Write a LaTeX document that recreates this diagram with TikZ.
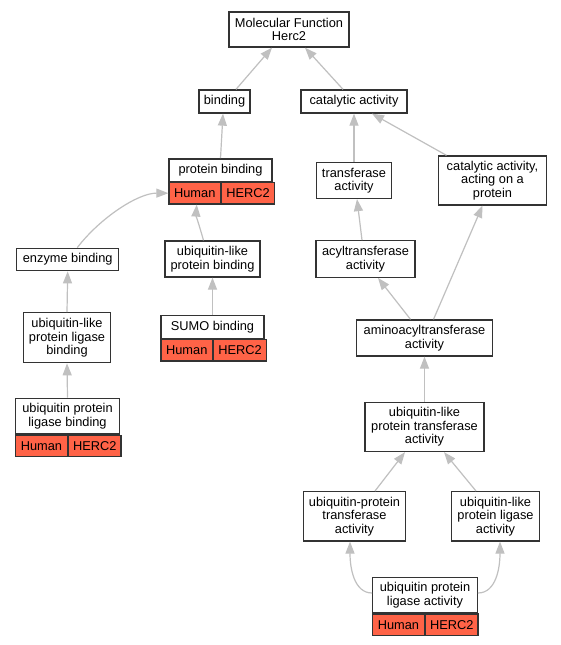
\documentclass[tikz,border=0pt]{standalone}
\usepackage{fontspec}
\setmainfont{Liberation Sans}
\usetikzlibrary{arrows.meta}
\definecolor{edgegray}{HTML}{C0C0C0}
\definecolor{boxline}{HTML}{333333}
\definecolor{tomato}{HTML}{FF6347}
\begin{document}
\begin{tikzpicture}[x=1pt,y=1pt,
    term/.style={draw=boxline,line width=1.3pt,fill=white,align=center,inner sep=0pt,
        font=\fontsize{12.8}{13.4}\selectfont},
    gene/.style={term,fill=tomato,minimum height=21.5,anchor=north west},
    edge/.style={draw=edgegray,line width=1.2pt,-{Triangle[length=12pt,width=9pt]}}]
    \useasboundingbox (0,0) rectangle (561,-645);
    \fill[white] (0,0) rectangle (561,-645);

    \node[term,minimum width=120,minimum height=35] (mf) at (289,-29.5) {Molecular Function\\Herc2};
    \node[term,minimum width=51,minimum height=23] (bind) at (224.5,-101.5) {binding};
    \node[term,minimum width=106,minimum height=23] (cat) at (354,-101.5) {catalytic activity};
    \node[term,minimum width=103,minimum height=22.3] (pb) at (220.5,-170) {protein binding};
    \node[term,minimum width=75,minimum height=36] (tr) at (354,-180.5) {transferase\\activity};
    \node[term,minimum width=108,minimum height=49] (ca) at (492.5,-180.5) {catalytic activity,\\acting on a\\protein};
    \node[term,minimum width=99,minimum height=36.5] (acyl) at (365.5,-259) {acyltransferase\\activity};
    \node[term,minimum width=136,minimum height=36] (amino) at (424.5,-338) {aminoacyltransferase\\activity};
    \node[term,minimum width=102,minimum height=22.5] (eb) at (67.7,-259.5) {enzyme binding};
    \node[term,minimum width=95,minimum height=36] (ulpb) at (212.5,-259) {ubiquitin-like\\protein binding};
    \node[term,minimum width=87.4,minimum height=50] (ulplb) at (67,-337.7) {ubiquitin-like\\protein ligase\\binding};
    \node[term,minimum width=103,minimum height=22.6] (sumo) at (212.5,-327) {SUMO binding};
    \node[term,minimum width=103.6,minimum height=35.7] (uplb) at (67.5,-416) {ubiquitin protein\\ligase binding};
    \node[term,minimum width=119,minimum height=49] (ulpt) at (424.5,-427) {ubiquitin-like\\protein transferase\\activity};
    \node[term,minimum width=102.4,minimum height=49.3] (upt) at (354.5,-516.3) {ubiquitin-protein\\transferase\\activity};
    \node[term,minimum width=87.6,minimum height=49.3] (ulpla) at (495.5,-516.3) {ubiquitin-like\\protein ligase\\activity};
    \node[term,minimum width=104.6,minimum height=35.4] (upla) at (425,-595) {ubiquitin protein\\ligase activity};

    \foreach \t in {pb,sumo,uplb,upla}{
        \node[gene,minimum width=51.5] (\t h) at (\t.south west) {Human};
        \node[gene,minimum width=52.5] (\t g) at (\t h.north east) {HERC2};
    }

    \draw[edge] ([xshift=11.5]bind.north) -- ([xshift=-17]mf.south);
    \draw[edge] ([xshift=-11]cat.north) -- ([xshift=16]mf.south);
    \draw[edge] (pb.north) -- ([xshift=-1.5]bind.south);
    \draw[edge] (tr.north) -- (cat.south);
    \draw[edge] ([xshift=-46]ca.north) -- ([xshift=18]cat.south);
    \draw[edge] ([xshift=9.6]eb.north) .. controls (100,-218) and (138,-193) .. (pbh.west);
    \draw[edge] ([xshift=-9]ulpb.north) .. controls (200,-228) and (196,-215) .. ([xshift=2]pbh.south);
    \foreach \a/\b in {sumo/ulpb,ulplb/eb,uplb/ulplb,ulpt/amino}
        \draw[edge] (\a.north) -- (\b.south);
    \draw[edge] ([xshift=-3.5]acyl.north) -- ([xshift=3]tr.south);
    \draw[edge] ([xshift=-14]amino.north) -- ([xshift=12.5]acyl.south);
    \draw[edge] ([xshift=9]amino.north) -- ([xshift=-10]ca.south);
    \draw[edge] ([xshift=20.5]upt.north) -- ([xshift=-19.5]ulpt.south);
    \draw[edge] ([xshift=-19.5]ulpla.north) -- ([xshift=19.5]ulpt.south);
    \draw[edge] ([yshift=2]upla.west) .. controls (354,-593) and (350,-568) .. ([xshift=-4.5]upt.south);
    \draw[edge] ([yshift=2]upla.east) .. controls (496,-593) and (500,-568) .. ([xshift=4.5]ulpla.south);
\end{tikzpicture}
\end{document}
